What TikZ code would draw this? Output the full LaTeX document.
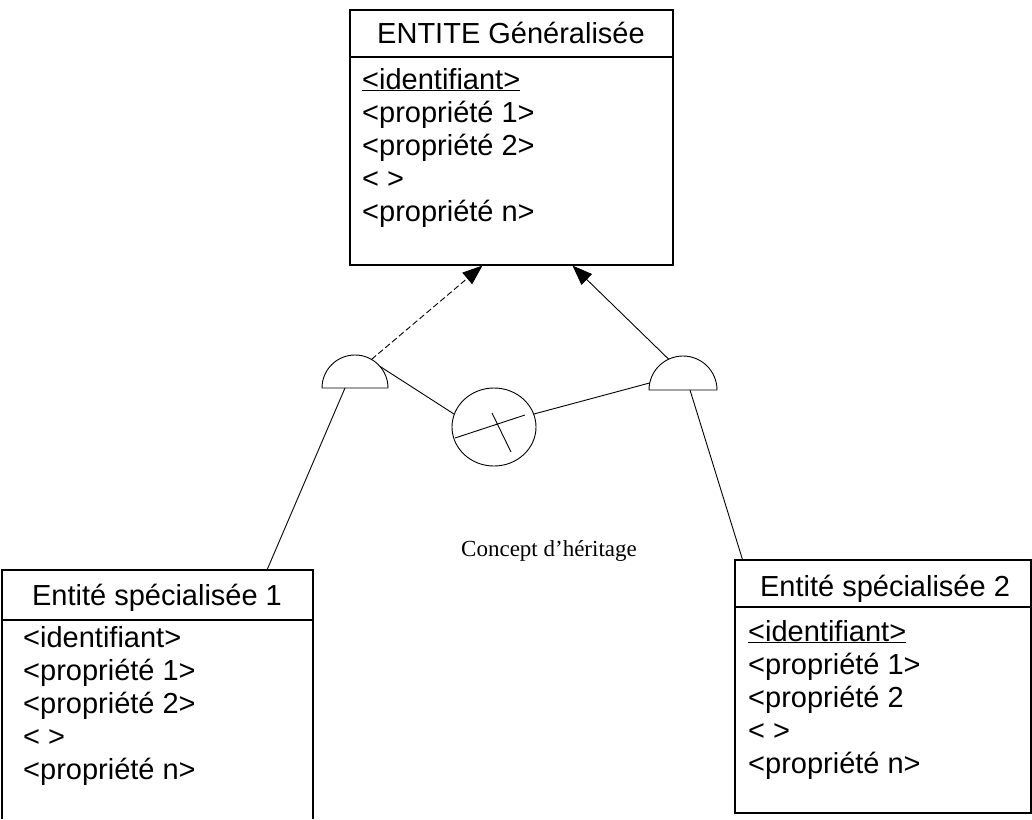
\documentclass[tikz,border=0pt]{standalone}
\usepackage{fontspec}
\setmainfont{Liberation Sans}
\newfontfamily\capserif{Liberation Serif}
\usetikzlibrary{arrows.meta,calc,shapes.geometric}

\begin{document}
\begin{tikzpicture}[x=1pt,y=-1pt,
  boxline/.style={draw=black,line width=1.1pt},
  entbox/.style={boxline,rectangle,inner sep=0pt},
  item/.style={anchor=base west,inner sep=0pt,font=\fontsize{29}{33}\selectfont},
  head/.style={anchor=base,inner sep=0pt,font=\fontsize{29}{33}\selectfont},
  link/.style={draw=black,line width=0.9pt},
  inherit/.style={link,-{Triangle[length=20pt,width=15pt]}},
  half/.style={draw=black,line width=0.9pt,fill=white}
]
\useasboundingbox (0,0) rectangle (1032,819);

% generalised entity
\node[entbox,minimum width=323pt,minimum height=255pt] (gen) at (511.5,137.5) {};
\draw[boxline] (350,57) -- (673,57);
\node[head] (genname) at (511,43) {ENTITE Généralisée};
\node[item] (gen1) at (362,89) {\underline{<identifiant>}};
\node[item] (gen2) at (362,122) {<propriété 1>};
\node[item] (gen3) at (362,155) {<propriété 2>};
\node[item] (gen4) at (362,188) {< >};
\node[item] (gen5) at (362,221) {<propriété n>};

% first specialised entity (open at the bottom)
\coordinate (spa-bl) at (2,819);
\coordinate (spa-tl) at (2,570);
\coordinate (spa-tr) at (313,570);
\coordinate (spa-br) at (313,819);
\draw[boxline] (spa-bl) -- (spa-tl) -- (spa-tr) -- (spa-br);
\draw[boxline] (2,620) -- (313,620);
\node[head] (spaname) at (157,605) {Entité spécialisée 1};
\node[item] (spa1) at (23,647) {<identifiant>};
\node[item] (spa2) at (23,680) {<propriété 1>};
\node[item] (spa3) at (23,713) {<propriété 2>};
\node[item] (spa4) at (23,746) {< >};
\node[item] (spa5) at (23,779) {<propriété n>};

% second specialised entity
\node[entbox,minimum width=296pt,minimum height=253pt] (spb) at (883,686.5) {};
\draw[boxline] (735,607) -- (1031,607);
\node[head] (spbname) at (885,596) {Entité spécialisée 2};
\node[item] (spb1) at (748,641) {\underline{<identifiant>}};
\node[item] (spb2) at (748,674) {<propriété 1>};
\node[item] (spb3) at (748,707) {<propriété 2};
\node[item] (spb4) at (748,740) {< >};
\node[item] (spb5) at (748,773) {<propriété n>};

% half-circle connectors
\coordinate (hl) at (355,388);
\coordinate (hr) at (683,390);
\draw[half] ($(hl)+(-33,0)$) arc[start angle=180,end angle=360,radius=33] -- cycle;
\draw[half] ($(hr)+(-34,0)$) arc[start angle=180,end angle=360,radius=34] -- cycle;

% inheritance disc
\node[ellipse,draw=black,line width=0.9pt,minimum width=84pt,minimum height=78pt,inner sep=0pt] (disc) at (494,427) {};
\draw[link] ($(disc)+(-39,11)$) -- ($(disc)+(31,-12)$);
\draw[link] ($(disc)+(-2,-14)$) -- ($(disc)+(17,25)$);

% links
\draw[inherit,dash pattern=on 6pt off 3pt] ($(hl)+(-60:33)$) -- ($(gen.south west)+(133,0)$);
\draw[inherit] ($(hr)+(-115:34)$) -- ($(gen.south west)+(223,0)$);
\draw[link] ($(hl)+(-41:33)$) -- (disc.162);
\draw[link] (disc.18) -- ($(hr)+(-168:34)$);
\draw[link] ($(hl)+(-10,0)$) -- ($(spa-tl)+(265,0)$);
\draw[link] ($(hr)+(7,0)$) -- ($(spb.north west)+(8,0)$);

\node[font=\capserif\fontsize{23}{27}\selectfont,anchor=base,inner sep=0pt] (caption) at (549,556) {Concept d’héritage};
\end{tikzpicture}
\end{document}
